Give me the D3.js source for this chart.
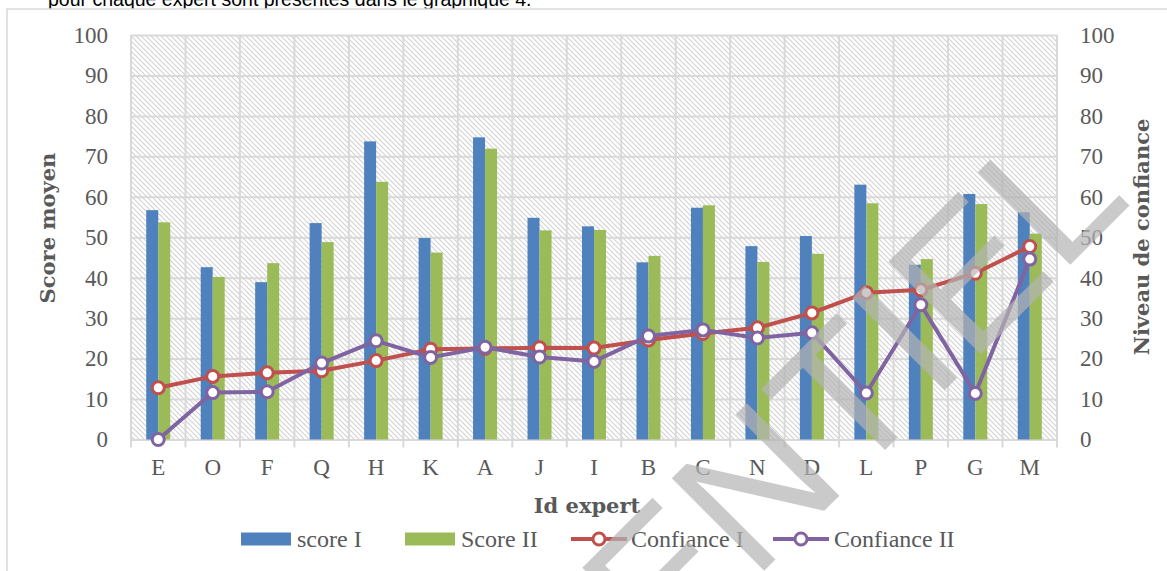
<!DOCTYPE html>
<html><head><meta charset="utf-8">
<script src="https://cdn.jsdelivr.net/npm/d3@7"></script>
<style>
html,body{margin:0;padding:0;background:#fff;overflow:hidden;}
svg{display:block;}
</style></head><body>
<svg id="chart" width="1167" height="571"></svg>
<script>
// Experts, ordered by Confiance I
const categories = ["E","O","F","Q","H","K","A","J","I","B","C","N","D","L","P","G","M"];
const scoreI   = [56.7, 42.6, 38.9, 53.5, 73.7, 49.8, 74.7, 54.8, 52.7, 43.8, 57.3, 47.8, 50.3, 63.0, 43.2, 60.7, 56.2];
const scoreII  = [53.7, 40.2, 43.6, 48.8, 63.7, 46.2, 71.9, 51.7, 51.8, 45.4, 57.9, 43.9, 45.9, 58.4, 44.6, 58.2, 50.9];
const confI    = [12.8, 15.6, 16.5, 17.0, 19.5, 22.3, 22.5, 22.7, 22.6, 24.6, 26.2, 27.6, 31.3, 36.3, 37.0, 41.1, 47.7];
const confII   = [0.0, 11.6, 11.8, 18.9, 24.4, 20.3, 22.8, 20.4, 19.3, 25.6, 27.1, 25.1, 26.4, 11.5, 33.3, 11.4, 44.6];
const yTicks   = [0,10,20,30,40,50,60,70,80,90,100];
const seriesNames = ["score I","Score II","Confiance I","Confiance II"];
const colors = {scoreI:"#4f81bd", scoreII:"#9bbb59", confI:"#c0504d", confII:"#8064a2"};

const serif = "'Liberation Serif', 'Times New Roman', serif";
const serifBold = "'DejaVu Serif', serif";
const textGrey = "#595959";
const gridGrey = "#d9d9d9";

const plot = {left:131, right:1057, top:35, bottom:439.5};
const svg = d3.select("#chart");

// diagonal hatch used as the plot-area fill
const defs = svg.append("defs");
const pat = defs.append("pattern").attr("id","hatch")
  .attr("patternUnits","userSpaceOnUse").attr("width",5).attr("height",5);
pat.append("path").attr("d","M-1,-1L6,6M-1,4L1,6M4,-1L6,1")
  .attr("stroke","#d2d2d2").attr("stroke-width",1.1).attr("fill","none");

// running text of the page above the chart
svg.append("text").attr("x",48).attr("y",6)
  .attr("font-family","'Liberation Sans', Arial, sans-serif").attr("font-size",19.5)
  .attr("fill","#000").text("pour chaque expert sont présentés dans le graphique 4.");

// chart frame
svg.append("rect").attr("x",7).attr("y",9).attr("width",1200).attr("height",620)
  .attr("fill","#fff").attr("stroke",gridGrey).attr("stroke-width",1.5);

// scales
const x = d3.scaleBand().domain(categories).range([plot.left, plot.right]).padding(0);
const bw = x.bandwidth();
const xSub = d3.scaleBand().domain(["scoreI","scoreII"]).range([bw/2-12, bw/2+12]).padding(0);
const y = d3.scaleLinear().domain([0,100]).range([plot.bottom, plot.top]);

// plot background
svg.append("rect").attr("x",plot.left).attr("y",plot.top)
  .attr("width",plot.right-plot.left).attr("height",plot.bottom-plot.top)
  .attr("fill","url(#hatch)");

// horizontal gridlines
const gridY = svg.append("g").attr("transform",`translate(${plot.left},0)`)
  .call(d3.axisLeft(y).tickValues(yTicks).tickSize(-(plot.right-plot.left)).tickFormat(""));
gridY.select(".domain").remove();
gridY.selectAll(".tick line").attr("stroke",gridGrey).attr("stroke-width",2);

// vertical gridlines at category boundaries (they run past the axis as ticks)
const bounds = categories.map(c => x(c)).concat([x.range()[1]]);
svg.append("g").selectAll("line").data(bounds).join("line")
  .attr("x1",d=>d).attr("x2",d=>d).attr("y1",plot.top).attr("y2",plot.bottom+8)
  .attr("stroke",gridGrey).attr("stroke-width",2);

// bars
const barData = [];
categories.forEach((c,i)=>{
  barData.push({c, key:"scoreI", v:scoreI[i]});
  barData.push({c, key:"scoreII", v:scoreII[i]});
});
svg.append("g").selectAll("rect").data(barData).join("rect")
  .attr("x",d=>x(d.c)+xSub(d.key)).attr("width",xSub.bandwidth())
  .attr("y",d=>y(d.v)).attr("height",d=>y(0)-y(d.v))
  .attr("fill",d=>colors[d.key]);

// left axis labels
const axL = svg.append("g").attr("transform",`translate(${plot.left-23},0)`)
  .call(d3.axisLeft(y).tickValues(yTicks).tickSize(0).tickPadding(0));
axL.select(".domain").remove();
axL.selectAll("text").attr("font-family",serif).attr("font-size",23).attr("fill",textGrey);

// right axis labels
const axR = svg.append("g").attr("transform",`translate(${plot.right+23},0)`)
  .call(d3.axisRight(y).tickValues(yTicks).tickSize(0).tickPadding(0));
axR.select(".domain").remove();
axR.selectAll("text").attr("font-family",serif).attr("font-size",23).attr("fill",textGrey);

// category axis
const axB = svg.append("g").attr("transform",`translate(0,${plot.bottom+14})`)
  .call(d3.axisBottom(x).tickSize(0).tickPadding(0));
axB.select(".domain").remove();
axB.selectAll("text").attr("font-family",serif).attr("font-size",23).attr("fill",textGrey).attr("dy","0.95em");

// confidence lines
const cx = c => x(c) + bw/2;
const lineGen = d3.line().x(d=>cx(d.c)).y(d=>y(d.v));
[["confI",confI],["confII",confII]].forEach(([key,vals])=>{
  const pts = categories.map((c,i)=>({c, v:vals[i]}));
  const g = svg.append("g");
  g.append("path").datum(pts).attr("d",lineGen)
    .attr("fill","none").attr("stroke",colors[key]).attr("stroke-width",4)
    .attr("stroke-linejoin","round").attr("stroke-linecap","round");
  g.selectAll("circle").data(pts).join("circle")
    .attr("cx",d=>cx(d.c)).attr("cy",d=>y(d.v)).attr("r",6)
    .attr("fill","#fff").attr("stroke",colors[key]).attr("stroke-width",3);
});

// axis titles
svg.append("text").attr("transform","translate(55,228) rotate(-90)")
  .attr("text-anchor","middle").attr("font-family",serifBold).attr("font-weight","bold")
  .attr("font-size",21).attr("fill",textGrey).text("Score moyen");
svg.append("text").attr("transform","translate(1149,237) rotate(-90)")
  .attr("text-anchor","middle").attr("font-family",serifBold).attr("font-weight","bold")
  .attr("font-size",21).attr("fill",textGrey).text("Niveau de confiance");
svg.append("text").attr("x",587).attr("y",513)
  .attr("text-anchor","middle").attr("font-family",serifBold).attr("font-weight","bold")
  .attr("font-size",21).attr("fill",textGrey).text("Id expert");

// legend
const leg = svg.append("g");
const ly = 539;
leg.append("rect").attr("x",241).attr("y",ly-6.5).attr("width",50).attr("height",13).attr("fill",colors.scoreI);
leg.append("text").attr("x",297).attr("y",ly+8).text(seriesNames[0]);
leg.append("rect").attr("x",405).attr("y",ly-6.5).attr("width",50).attr("height",13).attr("fill",colors.scoreII);
leg.append("text").attr("x",461).attr("y",ly+8).text(seriesNames[1]);
[[571,"confI",631,seriesNames[2]],[773,"confII",834,seriesNames[3]]].forEach(([x0,key,tx,label])=>{
  leg.append("line").attr("x1",x0).attr("x2",x0+56).attr("y1",ly).attr("y2",ly)
    .attr("stroke",colors[key]).attr("stroke-width",4);
  leg.append("circle").attr("cx",x0+28).attr("cy",ly).attr("r",6)
    .attr("fill","#fff").attr("stroke",colors[key]).attr("stroke-width",3);
  leg.append("text").attr("x",tx).attr("y",ly+8).text(label);
});
leg.selectAll("text").attr("font-family",serif).attr("font-size",24).attr("fill",textGrey);

// watermark stamped across the page
svg.append("text").attr("transform","translate(1134,201) rotate(-45)")
  .attr("text-anchor","end").attr("font-family","'Liberation Sans', Arial, sans-serif")
  .attr("font-size",190).attr("fill","#b4b4b4").attr("opacity",0.7)
  .text("CONFIDENTIEL");
</script>
</body></html>
